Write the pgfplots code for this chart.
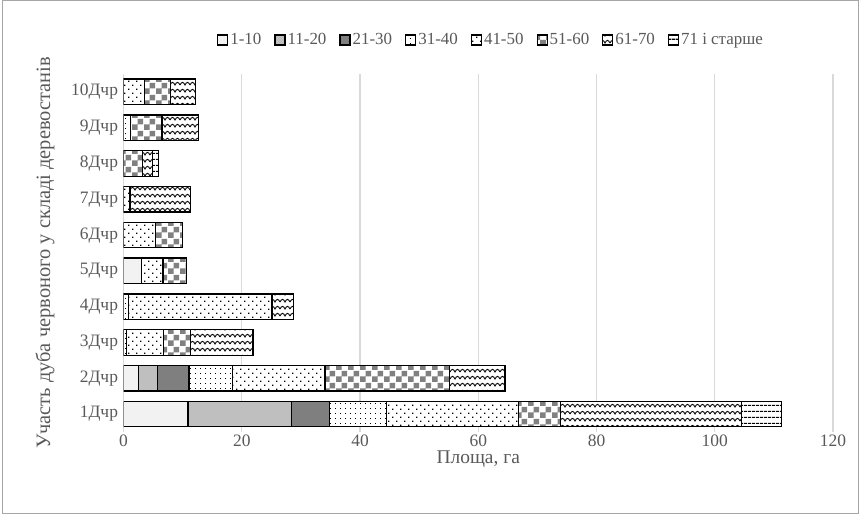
\documentclass[border=0pt]{standalone}
\usepackage{fontspec}
\setmainfont{Liberation Serif}
\usepackage{pgfplots}
\usepackage{pgfplotstable}
\pgfplotsset{compat=1.18}
\usetikzlibrary{patterns}

\definecolor{ageA}{HTML}{F2F2F2}
\definecolor{ageB}{HTML}{BFBFBF}
\definecolor{ageC}{HTML}{7F7F7F}
\definecolor{txtgray}{HTML}{595959}
\definecolor{gridgray}{HTML}{D9D9D9}

% fill patterns, drawn over a white fill
\pgfdeclarepatternformonly{dotsdense}{\pgfqpoint{-1bp}{-1bp}}{\pgfqpoint{6bp}{6bp}}{\pgfqpoint{5bp}{5bp}}{%
  \pgfpathrectangle{\pgfqpoint{0bp}{0bp}}{\pgfqpoint{1.3bp}{1.3bp}}\pgfusepath{fill}}
\pgfdeclarepatternformonly{dotssparse}{\pgfqpoint{-1bp}{-1bp}}{\pgfqpoint{9bp}{9bp}}{\pgfqpoint{8bp}{8bp}}{%
  \pgfpathrectangle{\pgfqpoint{0bp}{0bp}}{\pgfqpoint{1.4bp}{1.4bp}}%
  \pgfpathrectangle{\pgfqpoint{4bp}{4bp}}{\pgfqpoint{1.4bp}{1.4bp}}\pgfusepath{fill}}
\pgfdeclarepatternformonly{checker}{\pgfqpoint{0bp}{0bp}}{\pgfqpoint{12bp}{12bp}}{\pgfqpoint{12bp}{12bp}}{%
  \pgfpathrectangle{\pgfqpoint{0bp}{0bp}}{\pgfqpoint{6bp}{6bp}}%
  \pgfpathrectangle{\pgfqpoint{6bp}{6bp}}{\pgfqpoint{6bp}{6bp}}\pgfusepath{fill}}
\pgfdeclarepatternformonly{wave}{\pgfqpoint{-1bp}{-1bp}}{\pgfqpoint{11bp}{8bp}}{\pgfqpoint{10bp}{7bp}}{%
  \pgfsetlinewidth{0.9bp}%
  \pgfpathmoveto{\pgfqpoint{0bp}{2bp}}%
  \pgfpathcurveto{\pgfqpoint{1.7bp}{5.5bp}}{\pgfqpoint{3.3bp}{5.5bp}}{\pgfqpoint{5bp}{2bp}}%
  \pgfpathcurveto{\pgfqpoint{6.7bp}{5.5bp}}{\pgfqpoint{8.3bp}{5.5bp}}{\pgfqpoint{10bp}{2bp}}%
  \pgfusepath{stroke}}
\pgfdeclarepatternformonly{hlines}{\pgfqpoint{0bp}{0bp}}{\pgfqpoint{4bp}{6bp}}{\pgfqpoint{4bp}{6bp}}{%
  \pgfpathrectangle{\pgfqpoint{0bp}{0bp}}{\pgfqpoint{4bp}{1.4bp}}\pgfusepath{fill}}

% area (ha) by age group
\pgfplotstableread{
cat  a1   a2   a3   a4   a5   a6   a7   a8
1    10.9 17.5 6.4  9.7  22.3 7.1  30.6 6.8
2    2.5  3.3  5.3  7.3  15.7 21.0 9.4  0
3    0    0    0    0.5  6.3  4.5  10.6 0
4    0    0    0    0.9  24.2 0    3.7  0
5    3.0  0    0    0    3.7  4.0  0    0
6    0    0    0    0    5.4  4.6  0    0
7    0    0    0    0    1.1  0    10.2 0
8    0    0    0    0    0    3.2  1.7  1.0
9    0    0    0    1.2  0    5.3  6.2  0
10   0    0    0    0    3.5  4.5  4.2  0
}\oak

\begin{document}
\begin{tikzpicture}
\path[use as bounding box] (0,0) rectangle (861bp,514bp);
\draw[gray!70, line width=0.8bp] (2.5bp,0.5bp) rectangle (858.5bp,513.5bp);
\begin{axis}[
  at={(123.5bp,82bp)}, anchor=south west,
  scale only axis, width=709.5bp, height=358bp,
  xbar stacked, bar width=25.5bp,
  xmin=0, xmax=120, ymin=0.5, ymax=10.5,
  xtick={0,20,...,120},
  ytick={1,...,10},
  yticklabels={\mbox{1Дчр},\mbox{2Дчр},\mbox{3Дчр},\mbox{4Дчр},\mbox{5Дчр},
    \mbox{6Дчр},\mbox{7Дчр},\mbox{8Дчр},\mbox{9Дчр},\mbox{10Дчр}},
  /pgf/number format/assume math mode=true,
  xmajorgrids, grid style={draw=gridgray, line width=1.2bp},
  axis x line*=bottom, axis y line*=left,
  x axis line style={draw=none},
  y axis line style={draw=gridgray, line width=1.2bp},
  tick style={draw=none},
  tick label style={font=\rmfamily\fontsize{17.5}{20}\selectfont, text=txtgray},
  xticklabel style={yshift=1bp},
  yticklabel style={xshift=-2bp},
  xlabel={Площа, га},
  ylabel={Участь дуба червоного у складі деревостанів},
  label style={font=\rmfamily\fontsize{19.5}{22}\selectfont, text=txtgray},
  xlabel style={yshift=2bp},
  ylabel style={at={(axis description cs:-0.1107,0.5)}, anchor=center,
    font=\rmfamily\fontsize{20.5}{23}\selectfont},
  every axis plot/.append style={draw=black, line width=1.3bp},
  legend columns=8,
  legend style={at={(0.518,1.095)}, anchor=center, draw=none,
    font=\rmfamily\fontsize{17}{20}\selectfont, text=txtgray,
    /tikz/every even column/.append style={column sep=11bp}},
  legend image code/.code={\draw[#1, line width=1.2bp] (0bp,-5bp) rectangle (10bp,5bp);},
]
\addplot[fill=ageA] table[x=a1, y=cat] {\oak};
\addlegendentry{1-10}
\addplot[fill=ageB] table[x=a2, y=cat] {\oak};
\addlegendentry{11-20}
\addplot[fill=ageC] table[x=a3, y=cat] {\oak};
\addlegendentry{21-30}
\addplot[fill=white, postaction={pattern=dotsdense}] table[x=a4, y=cat] {\oak};
\addlegendentry{31-40}
\addplot[fill=white, postaction={pattern=dotssparse}] table[x=a5, y=cat] {\oak};
\addlegendentry{41-50}
\addplot[fill=white, postaction={pattern=checker, pattern color=gray}] table[x=a6, y=cat] {\oak};
\addlegendentry{51-60}
\addplot[fill=white, postaction={pattern=wave}] table[x=a7, y=cat] {\oak};
\addlegendentry{61-70}
\addplot[fill=white, postaction={pattern=hlines}] table[x=a8, y=cat] {\oak};
\addlegendentry{71 і старше}
\end{axis}
\end{tikzpicture}
\end{document}
